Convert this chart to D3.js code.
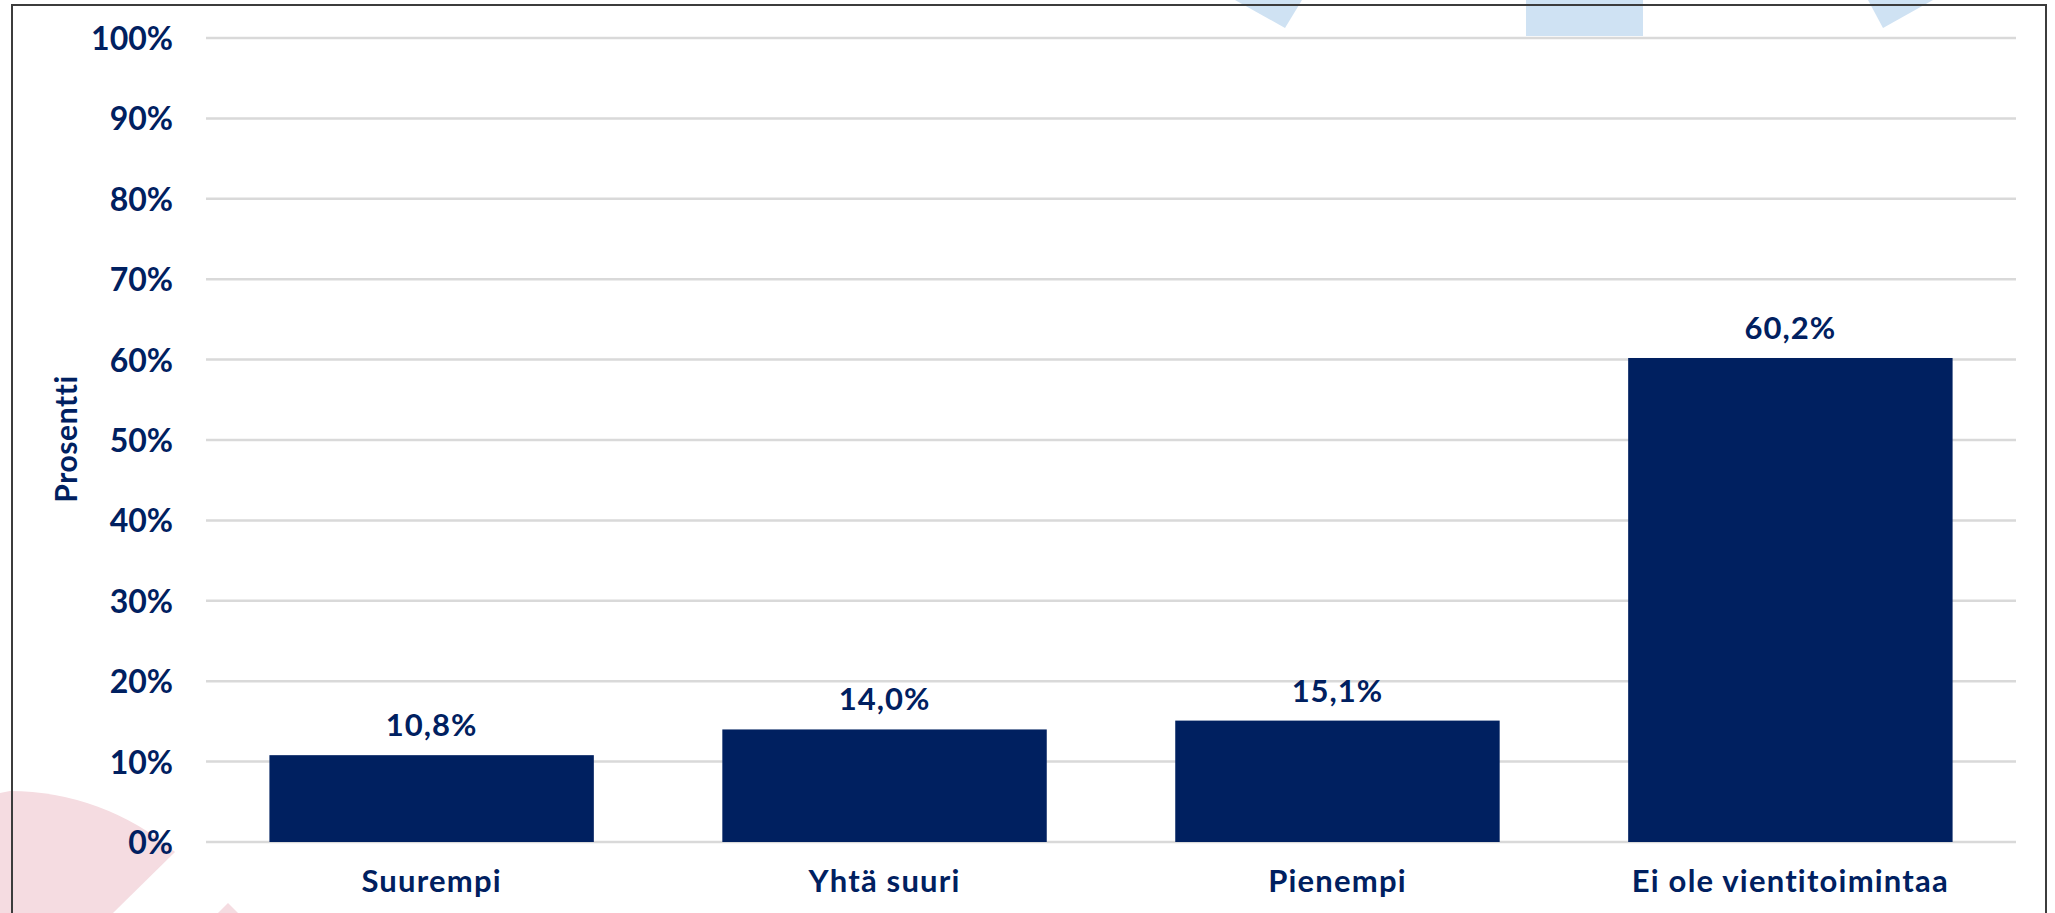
<!DOCTYPE html>
<html>
<head>
<meta charset="utf-8">
<script src="https://cdn.jsdelivr.net/npm/d3@7"></script>
<style>
  html, body { margin: 0; padding: 0; background: #ffffff; overflow: hidden; }
  svg { display: block; }
  text { font-family: Lato, "Open Sans", sans-serif; font-weight: 700; fill: #002060; }
</style>
</head>
<body>
<svg id="chart" width="2055" height="913"></svg>
<script>
const categories = ["Suurempi", "Yhtä suuri", "Pienempi", "Ei ole vientitoimintaa"];
const values = [10.8, 14.0, 15.1, 60.2];
const yTicks = [0, 10, 20, 30, 40, 50, 60, 70, 80, 90, 100];
const yTitle = "Prosentti";

const W = 2055, H = 913;
const svg = d3.select("#chart");

// background decorations (slide artwork)
const deco = svg.append("g");
deco.append("path").attr("d", "M1235,0 L1302,0 L1285,28 Z").attr("fill", "#cfe2f3");
deco.append("rect").attr("x", 1526).attr("y", 0).attr("width", 117).attr("height", 36).attr("fill", "#cfe2f3");
deco.append("path").attr("d", "M1868,0 L1933,0 L1883,28 Z").attr("fill", "#cfe2f3");
deco.append("path").attr("d", "M0,793 L10,791 A254,254 0 0 1 175,852 L113,913 L0,913 Z").attr("fill", "#f5dce1");
deco.append("path").attr("d", "M218,913 L228,903 L238,913 Z").attr("fill", "#f5dce1");

// frame
svg.append("rect").attr("x", 12).attr("y", 5).attr("width", 2034).attr("height", 1000)
  .attr("fill", "none").attr("stroke", "#3c3c3c").attr("stroke-width", 2);

const x = d3.scaleBand().domain(categories).range([206, 2016]).paddingInner(0.2837).paddingOuter(0.14);
const y = d3.scaleLinear().domain([0, 100]).range([842, 38]);

// gridlines
svg.append("g").selectAll("line").data(yTicks).join("line")
  .attr("x1", 206).attr("x2", 2016)
  .attr("y1", d => y(d)).attr("y2", d => y(d))
  .attr("stroke", "#d9d9d9").attr("stroke-width", 2.5);

// y axis labels
const yAxis = d3.axisLeft(y).tickValues(yTicks).tickFormat(d => d + "%").tickSize(0).tickPadding(0);
const gy = svg.append("g").attr("transform", "translate(173,0)").call(yAxis);
gy.select(".domain").remove();
gy.selectAll("text").attr("font-size", 32).attr("dy", "0.36em")
  .style("font-family", "Lato, sans-serif").style("font-weight", 700).style("fill", "#002060");

// bars
svg.append("g").selectAll("rect").data(values).join("rect")
  .attr("x", (d, i) => x(categories[i]))
  .attr("y", d => y(d))
  .attr("width", x.bandwidth())
  .attr("height", d => y(0) - y(d))
  .attr("fill", "#002060");

// value labels
svg.append("g").selectAll("text").data(values).join("text")
  .attr("x", (d, i) => x(categories[i]) + x.bandwidth() / 2)
  .attr("y", d => y(d) - 19)
  .attr("text-anchor", "middle")
  .attr("font-size", 31)
  .attr("letter-spacing", 1)
  .text(d => d.toFixed(1).replace(".", ",") + "%");

// x axis labels
const xAxis = d3.axisBottom(x).tickSize(0).tickPadding(0);
const gx = svg.append("g").attr("transform", "translate(0,870)").call(xAxis);
gx.select(".domain").remove();
gx.selectAll("text").attr("font-size", 31).attr("dy", "0.72em").attr("letter-spacing", 1.2)
  .style("font-family", "Lato, sans-serif").style("font-weight", 700).style("fill", "#002060");

// y title
svg.append("text")
  .attr("transform", "translate(77,439) rotate(-90)")
  .attr("text-anchor", "middle")
  .attr("font-size", 30)
  .attr("letter-spacing", 0.6)
  .text(yTitle);
</script>
</body>
</html>
